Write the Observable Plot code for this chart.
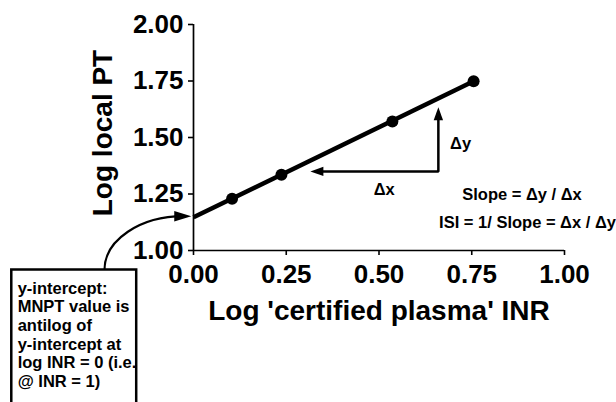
<!DOCTYPE html>
<html>
<head>
<meta charset="utf-8">
<script src="https://cdn.jsdelivr.net/npm/d3@7"></script>
<script src="https://cdn.jsdelivr.net/npm/@observablehq/plot@0.6"></script>
<style>
  html, body { margin: 0; padding: 0; background: #fff; }
  #chart { width: 616px; height: 402px; overflow: hidden; }
</style>
</head>
<body>
<div id="chart"></div>
<script>
// ---- data ----
const logINR = [0.104, 0.237, 0.536, 0.755];
const logPT  = [1.229, 1.335, 1.571, 1.749];
const fitX = [0, 0.755];
const fitY = [1.147, 1.749];
const xTicks = [0, 0.25, 0.5, 0.75, 1];
const yTicks = [1, 1.25, 1.5, 1.75, 2];
const xLabel = "Log 'certified plasma' INR";
const yLabel = "Log local PT";

// ---- annotations ----
const deltaPathX = [0.3315, 0.660, 0.660];
const deltaPathY = [1.350, 1.350, 1.615];
const headX = [0.315, 0.660];
const headY = [1.350, 1.634];
const headAngle = [180, -90];
const deltaLabels = ["\u0394x", "\u0394y"];
const deltaLabelX = [0.514, 0.720];
const deltaLabelY = [1.267, 1.473];
const formulas = ["Slope = \u0394y / \u0394x", "ISI = 1/ Slope = \u0394x / \u0394y"];
const formulaX = [0.8855, 0.9003];
const formulaY = [1.248, 1.125];
const boxX = [-0.4898, -0.1531];
const boxY = [0.9137, 0.248];
const boxText = "y-intercept:\nMNPT value is\nantilog of\ny-intercept at\nlog INR = 0 (i.e.\n@ INR = 1)";
const boxTextX = -0.474;
const boxTextY = 0.867;
const curveX = [-0.2399, -0.2399, -0.1429, -0.027];
const curveY = [0.9137, 1.0473, 1.1518, 1.1518];
const curveTipX = [-0.006];
const curveTipY = [1.1518];

// tables built from the arrays
const pts = logINR.map((x, i) => ({x, y: logPT[i]}));
const fit = fitX.map((x, i) => ({x, y: fitY[i]}));
const deltaPath = deltaPathX.map((x, i) => ({x, y: deltaPathY[i]}));
const heads = headX.map((x, i) => ({x, y: headY[i], a: headAngle[i]}));
const dLabels = deltaLabels.map((t, i) => ({t, x: deltaLabelX[i], y: deltaLabelY[i]}));
const fLabels = formulas.map((t, i) => ({t, x: formulaX[i], y: formulaY[i]}));
const curvePts = curveX.map((x, i) => ({x, y: curveY[i]}));
const curveTip = curveTipX.map((x, i) => ({x, y: curveTipY[i]}));

// arrowhead symbol: tip at origin, pointing right
const headShape = (L, W) => ({
  draw(ctx) { ctx.moveTo(0, 0); ctx.lineTo(-L, -W); ctx.lineTo(-L, W); ctx.closePath(); }
});
// custom cubic-bezier curve: 4 points = start, c1, c2, end
function bezier(context) {
  let p = [];
  return {
    areaStart() {}, areaEnd() {},
    lineStart() { p = []; },
    point(x, y) { p.push([+x, +y]); },
    lineEnd() {
      context.moveTo(p[0][0], p[0][1]);
      context.bezierCurveTo(p[1][0], p[1][1], p[2][0], p[2][1], p[3][0], p[3][1]);
    }
  };
}

const font = "'Liberation Sans', Arial, Helvetica, sans-serif";

const chart = Plot.plot({
  width: 616,
  height: 402,
  marginLeft: 193,
  marginRight: 52,
  marginTop: 24,
  marginBottom: 152,
  x: {domain: [0, 1]},
  y: {domain: [1, 2]},
  style: {fontFamily: font, fontWeight: "bold", color: "black", background: "white", overflow: "visible"},
  marks: [
    Plot.axisX({ticks: xTicks, tickFormat: d3.format(".2f"), tickSize: 5, tickPadding: 9, fontSize: 26, fontWeight: "bold", strokeWidth: 1.6, label: null}),
    Plot.axisY({ticks: yTicks, tickFormat: d3.format(".2f"), tickSize: 5, tickPadding: 5, fontSize: 26, fontWeight: "bold", strokeWidth: 1.6, label: null}),
    Plot.ruleX([0], {strokeWidth: 1.7}),
    Plot.ruleY([1], {strokeWidth: 1.7}),
    Plot.text([xLabel], {frameAnchor: "bottom", textAnchor: "middle", dy: 61, fontSize: 28, fontWeight: "bold", lineAnchor: "middle"}),
    Plot.text([yLabel], {frameAnchor: "left", textAnchor: "middle", dx: -90, dy: -4.5, rotate: -90, fontSize: 28, fontWeight: "bold", lineAnchor: "middle"}),
    // data
    Plot.line(fit, {x: "x", y: "y", strokeWidth: 4.5, strokeLinecap: "butt"}),
    Plot.dot(pts, {x: "x", y: "y", r: 6, fill: "black", stroke: null}),
    // delta arrows
    Plot.line(deltaPath, {x: "x", y: "y", strokeWidth: 2.5, strokeLinecap: "butt", strokeLinejoin: "miter"}),
    Plot.dot(heads, {x: "x", y: "y", rotate: "a", symbol: headShape(13, 4.7), fill: "black", stroke: null}),
    Plot.text(dLabels, {x: "x", y: "y", text: "t", fontSize: 16.5, fontWeight: "bold"}),
    Plot.text(fLabels, {x: "x", y: "y", text: "t", fontSize: 16.5, fontWeight: "bold"}),
    // callout box
    Plot.rect([0], {x1: boxX[0], x2: boxX[1], y1: boxY[0], y2: boxY[1], fill: "white", stroke: "black", strokeWidth: 2.5}),
    Plot.text([boxText], {x: boxTextX, y: boxTextY, textAnchor: "start", lineAnchor: "top", lineHeight: 1.13, fontSize: 16.5, fontWeight: "bold"}),
    Plot.line(curvePts, {x: "x", y: "y", curve: bezier, strokeWidth: 2.2, strokeLinecap: "butt"}),
    Plot.dot(curveTip, {x: "x", y: "y", symbol: headShape(17, 5.2), fill: "black", stroke: null})
  ]
});
document.getElementById("chart").append(chart);
</script>
</body>
</html>
